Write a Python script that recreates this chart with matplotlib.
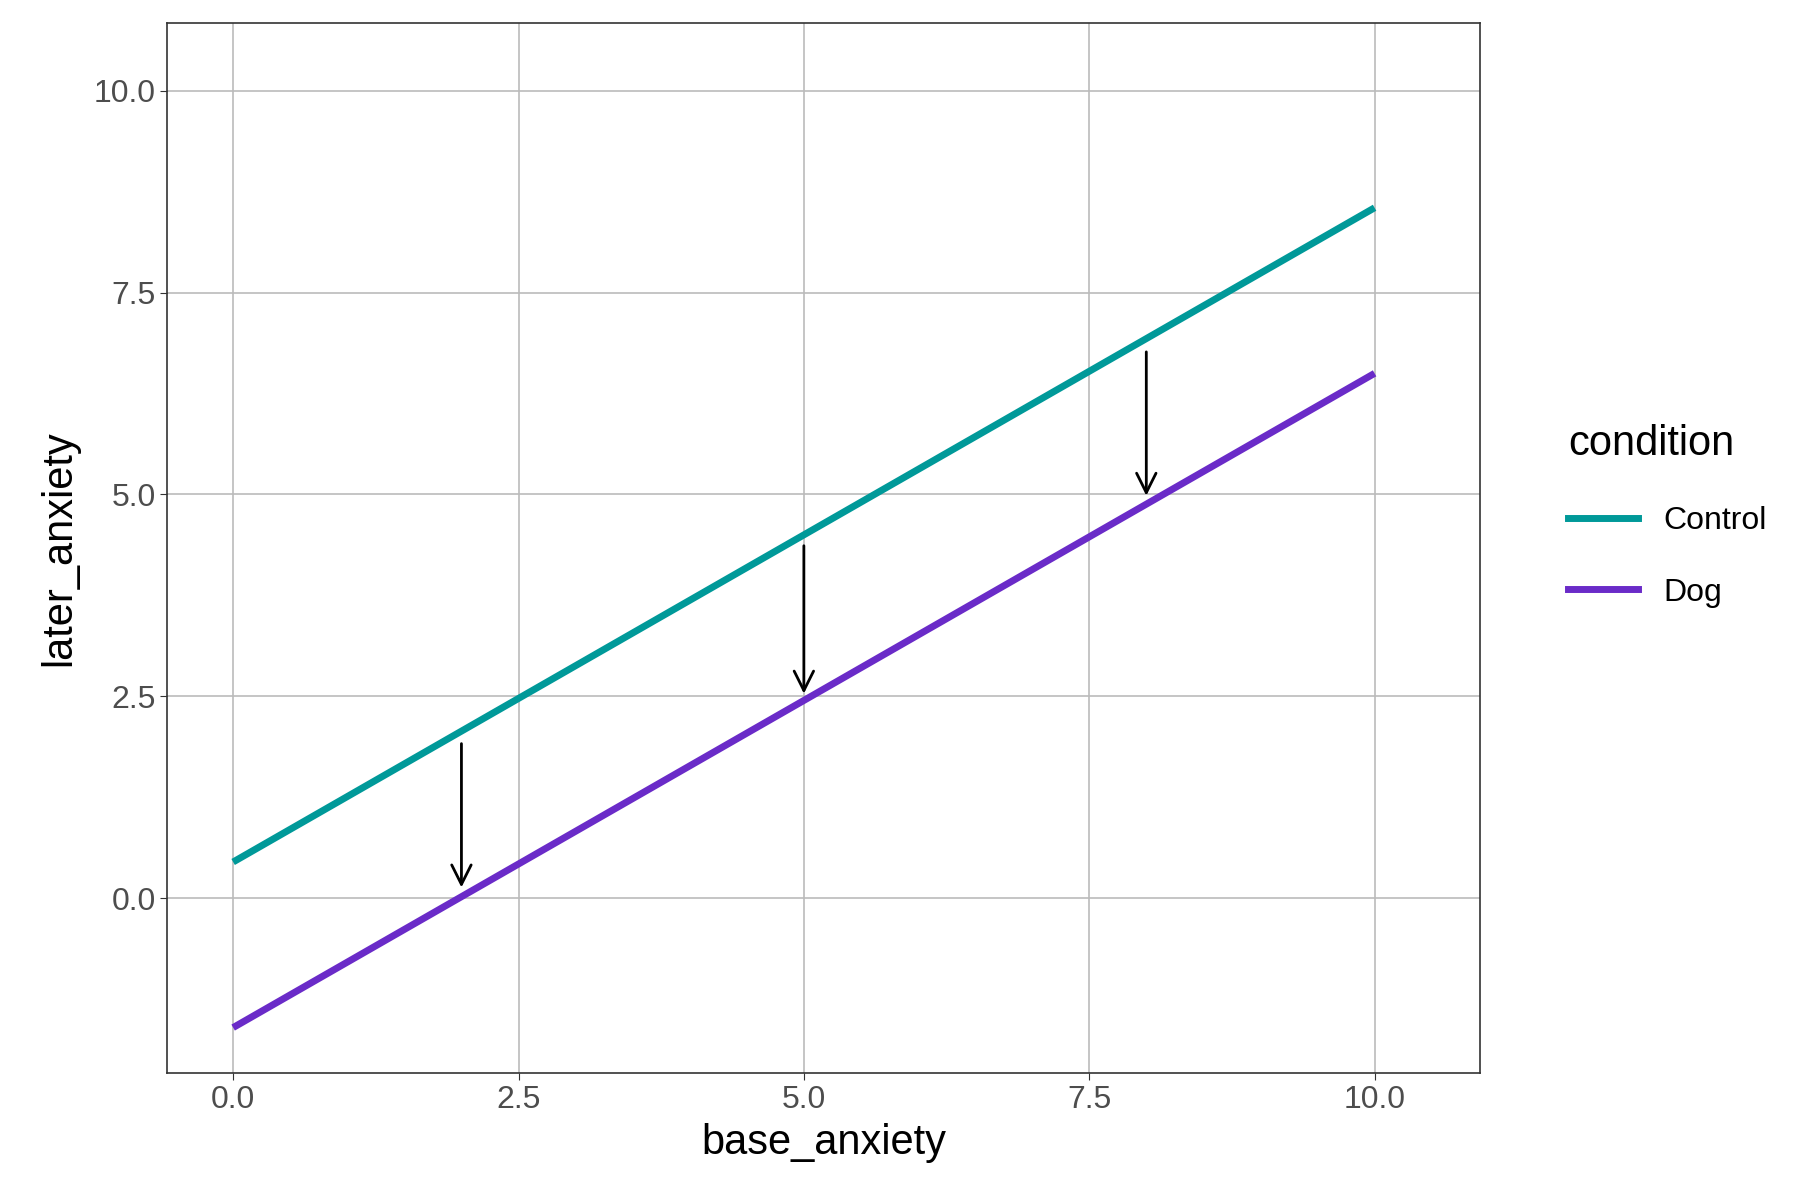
import matplotlib.pyplot as plt
from matplotlib.lines import Line2D

plt.rcParams['font.family'] = ['Liberation Sans', 'DejaVu Sans']

# ── data ──────────────────────────────────────────────────────────────────────
base_x = [0, 10]
control_y = [0.45, 8.55]
dog_y = [-1.6, 6.5]
arrow_x = [2, 5, 8]
arrow_start = [1.95, 4.4, 6.8]
arrow_end = [0.1, 2.5, 4.95]
labels = ['Control', 'Dog']
colors = ['#009999', '#6A2BC8']

fig = plt.figure(figsize=(18, 12), dpi=100)
ax = fig.add_axes([0.093, 0.106, 0.729, 0.875])

ax.plot(base_x, control_y, color=colors[0], lw=5, solid_capstyle='butt')
ax.plot(base_x, dog_y, color=colors[1], lw=5, solid_capstyle='butt')

for x, y0, y1 in zip(arrow_x, arrow_start, arrow_end):
    ax.annotate('', xy=(x, y1), xytext=(x, y0),
                arrowprops=dict(arrowstyle='->', color='black', lw=2,
                                mutation_scale=35))

ax.set_xlim(-0.576, 10.92)
ax.set_ylim(-2.16, 10.84)
ax.set_xticks([0, 2.5, 5, 7.5, 10])
ax.set_yticks([0, 2.5, 5, 7.5, 10])
ax.set_xticklabels(['0.0', '2.5', '5.0', '7.5', '10.0'])
ax.set_yticklabels(['0.0', '2.5', '5.0', '7.5', '10.0'])
ax.grid(color='#BBBBBB', lw=1.2)
ax.set_axisbelow(True)
ax.tick_params(labelsize=23, labelcolor='#4D4D4D', color='#333333', length=5)
for s in ax.spines.values():
    s.set_color('#333333')
    s.set_linewidth(1.2)
ax.set_xlabel('base_anxiety', fontsize=30, labelpad=6)
ax.set_ylabel('later_anxiety', fontsize=30, labelpad=10)

handles = [Line2D([0], [0], color=c, lw=5) for c in colors]
leg = fig.legend(handles, labels, title='condition', loc='center left',
                 bbox_to_anchor=(0.855, 0.57), frameon=False, fontsize=23,
                 title_fontsize=30, handlelength=2.2, labelspacing=1.3)
leg._legend_box.align = 'left'

fig.savefig('out.png')
